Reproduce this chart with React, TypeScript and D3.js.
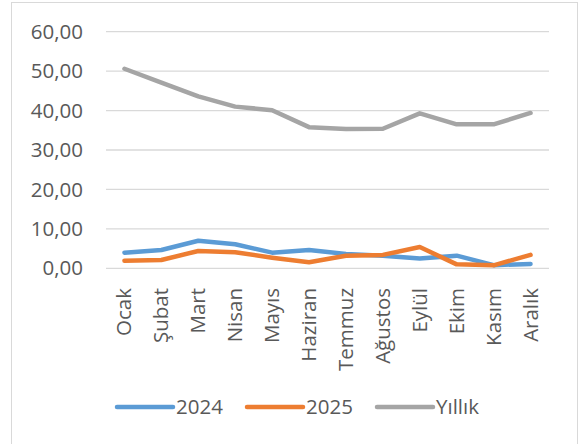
import React from "react";
import * as d3 from "d3";

const months = ["Ocak", "Şubat", "Mart", "Nisan", "Mayıs", "Haziran", "Temmuz", "Ağustos", "Eylül", "Ekim", "Kasım", "Aralık"];
const values2024 = [3.97, 4.65, 7.0, 6.1, 3.97, 4.65, 3.64, 3.2, 2.5, 3.2, 0.8, 1.1];
const values2025 = [1.94, 2.1, 4.4, 4.07, 2.7, 1.53, 3.2, 3.4, 5.4, 1.0, 0.75, 3.4];
const valuesYillik = [50.6, 47.1, 43.6, 41.0, 40.1, 35.8, 35.3, 35.4, 39.3, 36.5, 36.5, 39.4];
const yTicks = [0, 10, 20, 30, 40, 50, 60];
const seriesNames = ["2024", "2025", "Yıllık"];
const seriesColors = ["#5B9BD5", "#ED7D31", "#A5A5A5"];

const W = 579;
const H = 444;
const FONT = "'Open Sans', sans-serif";
const TEXT = "#595959";

export default function App() {
  const x = d3.scaleBand<string>().domain(months).range([106, 549]);
  const y = d3.scaleLinear().domain([0, 60]).range([268.3, 31.7]);
  const cx = (m: string) => (x(m) ?? 0) + x.bandwidth() / 2;
  const line = d3
    .line<number>()
    .x((_, i) => cx(months[i]))
    .y((v) => y(v));
  const allSeries = [values2024, values2025, valuesYillik];
  const fmt = (v: number) => v.toFixed(2).replace(".", ",");

  const legendX = [117, 247, 377];

  return (
    <svg width={W} height={H} style={{ position: "absolute", left: 0, top: 0 }} fontFamily={FONT}>
      <rect x={0} y={0} width={W} height={H} fill="#fff" />
      <rect x={11.5} y={2.5} width={566} height={460} fill="#fff" stroke="#D9D9D9" strokeWidth={1} />
      {yTicks.map((t) => (
        <g key={t}>
          <line x1={106} x2={549} y1={y(t)} y2={y(t)} stroke="#D9D9D9" strokeWidth={1.3} />
          <text x={83} y={y(t)} dy="0.35em" textAnchor="end" fontSize={20.5} fill={TEXT}>
            {fmt(t)}
          </text>
        </g>
      ))}
      {months.map((m) => (
        <text
          key={m}
          transform={`translate(${cx(m) + 7},${288}) rotate(-90)`}
          textAnchor="end"
          fontSize={20.5}
          fill={TEXT}
        >
          {m}
        </text>
      ))}
      {allSeries.map((s, i) => (
        <path
          key={i}
          d={line(s) ?? ""}
          fill="none"
          stroke={seriesColors[i]}
          strokeWidth={4.5}
          strokeLinejoin="round"
          strokeLinecap="round"
        />
      ))}
      {seriesNames.map((n, i) => (
        <g key={n}>
          <line
            x1={legendX[i]}
            x2={legendX[i] + 56}
            y1={407}
            y2={407}
            stroke={seriesColors[i]}
            strokeWidth={4.5}
            strokeLinecap="round"
          />
          <text x={legendX[i] + 59} y={407} dy="0.35em" fontSize={20.5} fill={TEXT}>
            {n}
          </text>
        </g>
      ))}
    </svg>
  );
}
